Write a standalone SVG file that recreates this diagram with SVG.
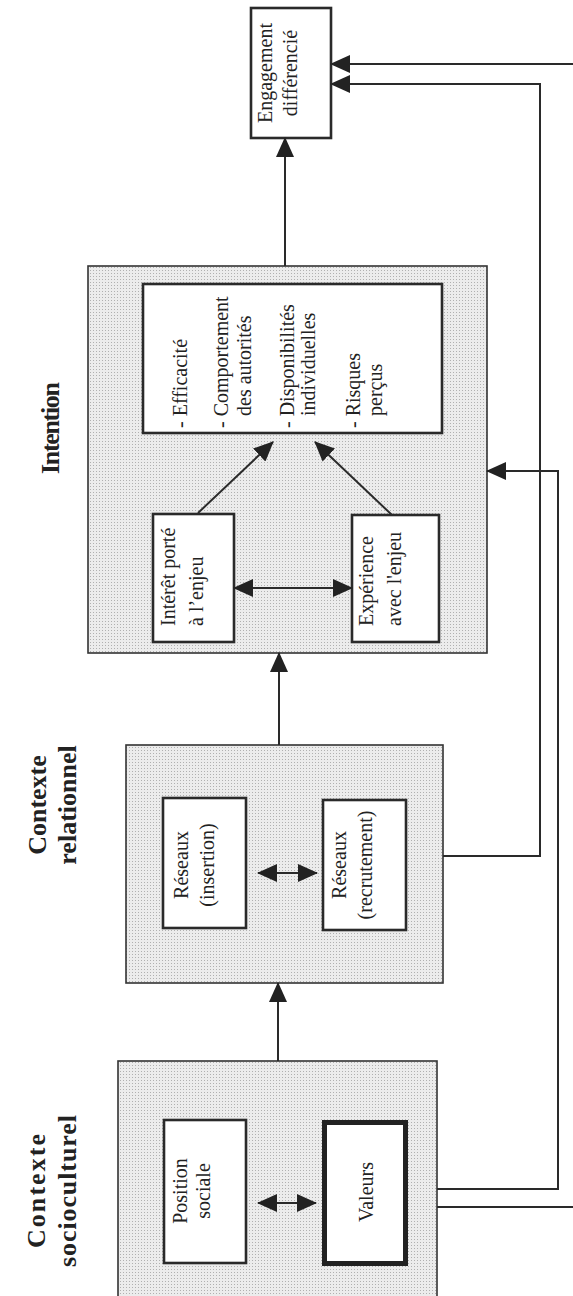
<svg xmlns="http://www.w3.org/2000/svg" width="573" height="1296" viewBox="0 0 573 1296">
<style>
.outer{fill:url(#dots);stroke:#333;stroke-width:1.6}
.inner{fill:#fff;stroke:#2a2a2a;stroke-width:2.6}
.thick{fill:#fff;stroke:#222;stroke-width:5}
.t{font-family:"Liberation Serif","Times New Roman",serif;font-size:20px;fill:#222}
.h{font-family:"Liberation Serif","Times New Roman",serif;font-size:26px;font-weight:bold;fill:#222}
.c{fill:none;stroke:#2a2a2a;stroke-width:2}
</style>
<defs>
<pattern id="dots" width="3" height="3" patternUnits="userSpaceOnUse">
<rect width="3" height="3" fill="#ececec"/>
<rect width="1" height="1" fill="#b0b0b0"/>
</pattern>
<marker id="ah" markerUnits="userSpaceOnUse" markerWidth="20" markerHeight="18" viewBox="0 0 20 18" refX="19" refY="9" orient="auto-start-reverse">
<path d="M0,0 L20,9 L0,18 z" fill="#222"/>
</marker>
</defs>
<rect width="573" height="1296" fill="#fff"/>

<g id="title-intention"><text class="h" transform="translate(59,428) rotate(-90)" text-anchor="middle" textLength="92">Intention</text></g>
<g id="title-relationnel"><text class="h" transform="translate(46,805) rotate(-90)" text-anchor="middle"><tspan x="0" y="0">Contexte</tspan><tspan x="0" y="30">relationnel</tspan></text></g>
<g id="title-socioculturel"><text class="h" transform="translate(45,1191) rotate(-90)" text-anchor="middle"><tspan x="0" y="0" textLength="114">Contexte</tspan><tspan x="0" y="31" textLength="152">socioculturel</tspan></text></g>

<g id="engagement">
<rect class="inner" x="251" y="8" width="80" height="130"/>
<text class="t" transform="translate(272,73) rotate(-90)" text-anchor="middle"><tspan x="0" y="0">Engagement</tspan><tspan x="0" y="25">différencié</tspan></text>
</g>

<g id="intention">
<rect class="outer" x="88" y="266" width="399" height="387"/>
</g>
<g id="facteurs">
<rect class="inner" x="143" y="284" width="299" height="149"/>
<text class="t" transform="translate(187,428) rotate(-90)">- Efficacité</text>
<text class="t" transform="translate(228,428) rotate(-90)">- Comportement</text>
<text class="t" transform="translate(251,416) rotate(-90)">des autorités</text>
<text class="t" transform="translate(294,428) rotate(-90)">- Disponibilités</text>
<text class="t" transform="translate(315,416) rotate(-90)">individuelles</text>
<text class="t" transform="translate(360,428) rotate(-90)">- Risques</text>
<text class="t" transform="translate(382,416) rotate(-90)">perçus</text>
</g>
<g id="interet">
<rect class="inner" x="153" y="514" width="81" height="128"/>
<text class="t" transform="translate(175,626) rotate(-90)"><tspan x="0" y="0">Intérêt porté</tspan><tspan x="0" y="28">à l’enjeu</tspan></text>
</g>
<g id="experience">
<rect class="inner" x="352" y="515" width="87" height="127"/>
<text class="t" transform="translate(373,626) rotate(-90)"><tspan x="0" y="0">Expérience</tspan><tspan x="0" y="28">avec l'enjeu</tspan></text>
</g>

<g id="relationnel">
<rect class="outer" x="126" y="745" width="317" height="238"/>
</g>
<g id="reseaux-insertion">
<rect class="inner" x="163" y="798" width="83" height="130"/>
<text class="t" transform="translate(188,865) rotate(-90)" text-anchor="middle"><tspan x="0" y="0">Réseaux</tspan><tspan x="0" y="26">(insertion)</tspan></text>
</g>
<g id="reseaux-recrutement">
<rect class="inner" x="323" y="800" width="83" height="130"/>
<text class="t" transform="translate(346,865) rotate(-90)" text-anchor="middle"><tspan x="0" y="0">Réseaux</tspan><tspan x="0" y="26">(recrutement)</tspan></text>
</g>

<g id="socioculturel">
<rect class="outer" x="118" y="1061" width="319" height="245"/>
</g>
<g id="position-sociale">
<rect class="inner" x="164" y="1120" width="82" height="143"/>
<text class="t" transform="translate(187,1191) rotate(-90)" text-anchor="middle"><tspan x="0" y="0">Position</tspan><tspan x="0" y="23">sociale</tspan></text>
</g>
<g id="valeurs">
<rect class="thick" x="324.5" y="1122.5" width="81" height="141"/>
<text class="t" transform="translate(373,1192) rotate(-90)" text-anchor="middle">Valeurs</text>
</g>

<g id="connectors">
<path class="c" d="M278,1061 V983" marker-end="url(#ah)"/>
<path class="c" d="M279,745 V653" marker-end="url(#ah)"/>
<path class="c" d="M285,266 V138" marker-end="url(#ah)"/>
<path class="c" d="M198,513 L273,442" marker-end="url(#ah)"/>
<path class="c" d="M392,515 L315,442" marker-end="url(#ah)"/>
<path class="c" d="M234,588 H352" marker-start="url(#ah)" marker-end="url(#ah)"/>
<path class="c" d="M258,873 H317" marker-start="url(#ah)" marker-end="url(#ah)"/>
<path class="c" d="M258,1203 H316" marker-start="url(#ah)" marker-end="url(#ah)"/>
<path class="c" d="M443,856 H540 V84 H331" marker-end="url(#ah)"/>
<path class="c" d="M437,1189 H558 V471 H487" marker-end="url(#ah)"/>
<path class="c" d="M437,1207 H580 V64 H331" marker-end="url(#ah)"/>
</g>
</svg>
